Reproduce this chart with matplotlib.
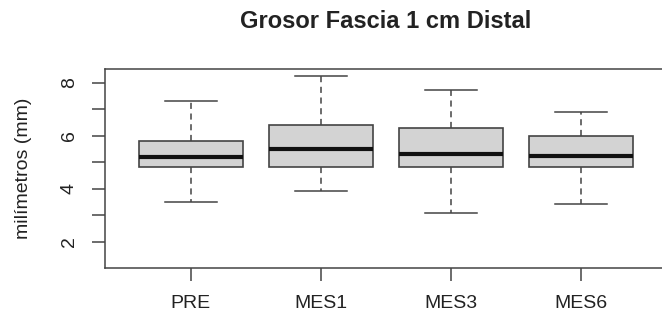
import numpy as np
import matplotlib.pyplot as plt

# Box statistics (mm)
groups = ["PRE", "MES1", "MES3", "MES6"]
whislo = [3.50, 3.92, 3.10, 3.42]
q1 = [4.81, 4.81, 4.81, 4.81]
med = [5.21, 5.52, 5.32, 5.24]
q3 = [5.81, 6.42, 6.30, 6.00]
whishi = [7.31, 8.24, 7.71, 6.90]

plt.rcParams['font.family'] = ['Liberation Sans', 'DejaVu Sans']

W, H = 662, 313
fig = plt.figure(figsize=(W / 100, H / 100), dpi=100)
# right edge of the frame falls just outside the picture, as in the reference
ax = fig.add_axes([105 / W, (H - 268) / H, (667 - 105) / W, (268 - 69) / H])

stats = []
for i, g in enumerate(groups):
    stats.append(dict(label=g, whislo=whislo[i], q1=q1[i], med=med[i],
                      q3=q3[i], whishi=whishi[i], fliers=[]))

edge = '#444444'
ax.bxp(stats, positions=np.arange(1, 5), widths=0.8, capwidths=0.4,
       patch_artist=True, showfliers=False,
       boxprops=dict(facecolor='#d3d3d3', edgecolor=edge, linewidth=1.2),
       medianprops=dict(color='#111111', linewidth=3),
       whiskerprops=dict(color=edge, linewidth=1.1, linestyle=(0, (4, 3))),
       capprops=dict(color=edge, linewidth=1.1))

ax.set_xlim(0.34, 4.66)
ax.set_ylim(1.02, 8.52)
ax.set_yticks([2, 3, 4, 5, 6, 7, 8])
ax.set_yticklabels(['2', '', '4', '', '6', '', '8'], rotation=90, va='center')
ax.set_xticks(np.arange(1, 5))
ax.set_xticklabels(groups)

for s in ax.spines.values():
    s.set_color(edge)
    s.set_linewidth(1.1)
ax.tick_params(axis='both', colors=edge, length=9.5, width=1.1,
               labelsize=14, labelcolor='#222222')
ax.tick_params(axis='y', pad=10)
ax.tick_params(axis='x', pad=10)

fig.text(24 / W, 1 - 168.5 / H, 'milímetros (mm)', rotation=90,
         ha='center', va='center', fontsize=14, color='#222222')
fig.text(386 / W, 1 - 22 / H, 'Grosor Fascia 1 cm Distal', ha='center',
         va='center', fontsize=17, fontweight='bold', color='#222222')

fig.savefig('out.png', dpi=100)
